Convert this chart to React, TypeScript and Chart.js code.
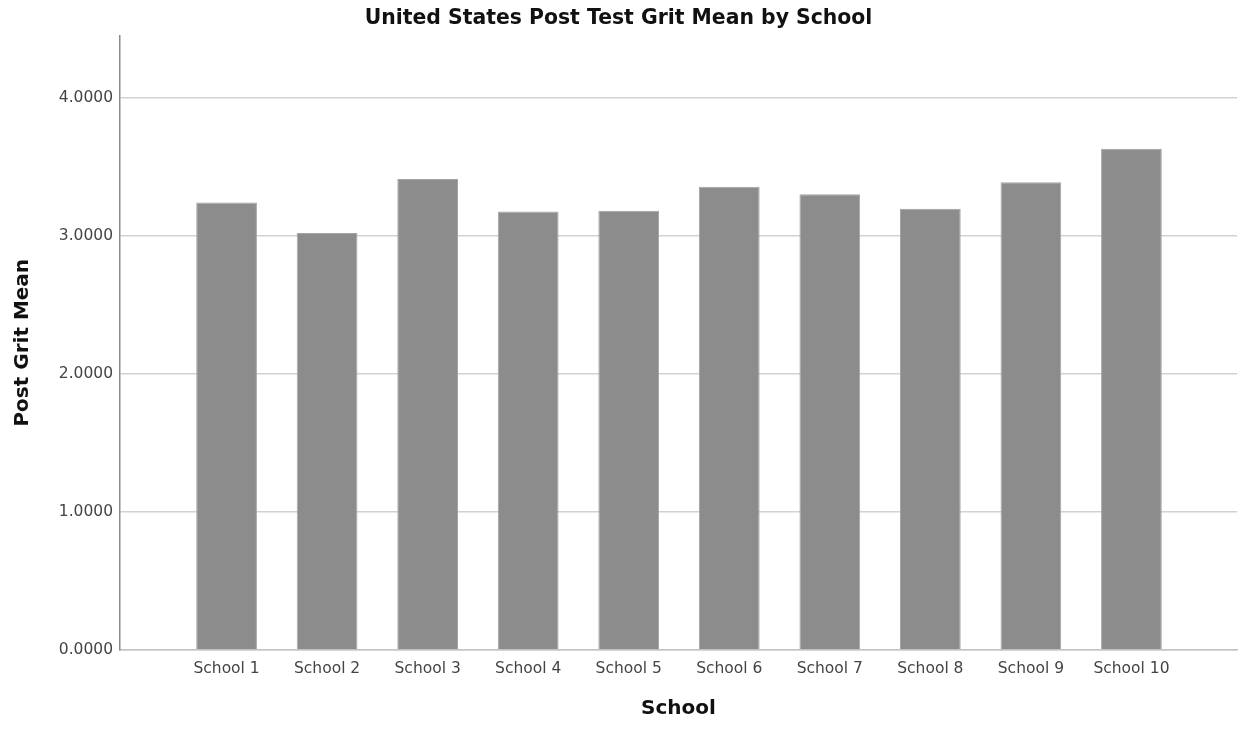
import React, { useEffect, useRef } from "react";
import { Chart, registerables } from "chart.js";

Chart.register(...registerables);

const schools = [
  "School 1", "School 2", "School 3", "School 4", "School 5",
  "School 6", "School 7", "School 8", "School 9", "School 10",
];
const postGritMean = [3.24, 3.02, 3.41, 3.175, 3.18, 3.354, 3.3, 3.195, 3.388, 3.629];
const yTicks = [0, 1, 2, 3, 4];

export default function App() {
  const ref = useRef<HTMLCanvasElement | null>(null);

  useEffect(() => {
    if (!ref.current) return;
    const chart = new Chart(ref.current, {
      type: "bar",
      data: {
        datasets: [
          {
            label: "Post Grit Mean",
            data: postGritMean.map((v, i) => ({ x: i + 1, y: v })),
            backgroundColor: "#8c8c8c",
            borderColor: "#a4a4a4",
            borderWidth: 1,
            barPercentage: 0.604,
            categoryPercentage: 1,
          },
        ],
      },
      options: {
        animation: false,
        responsive: false,
        maintainAspectRatio: false,
        layout: { padding: { left: 0, right: 4, top: 0, bottom: 0 } },
        plugins: {
          legend: { display: false },
          tooltip: { enabled: false },
          title: {
            display: true,
            text: "United States Post Test Grit Mean by School",
            color: "#111",
            font: { family: "DejaVu Sans", size: 20.4, weight: "bold" },
            padding: { top: 6, bottom: 5 },
          },
        },
        scales: {
          x: {
            type: "linear",
            offset: false,
            min: -0.06,
            max: 11.05,
            afterBuildTicks: (scale: any) => {
              scale.ticks = schools.map((_, i) => ({ value: i + 1 }));
            },
            afterFit: (scale: any) => {
              scale.height = 80;
            },
            grid: { display: false, drawTicks: false },
            border: { display: true, color: "#c4c4c4", width: 1.5 },
            ticks: {
              autoSkip: false,
              maxRotation: 0,
              padding: 10,
              color: "#444",
              font: { family: "DejaVu Sans", size: 15.5 },
              callback: (value: any) => schools[Math.round(Number(value)) - 1] ?? "",
            },
            title: {
              display: true,
              text: "School",
              color: "#111",
              font: { family: "DejaVu Sans", size: 20, weight: "bold" },
              padding: { top: 0, bottom: 9 },
            },
          },
          y: {
            type: "linear",
            min: 0,
            max: 4.45,
            afterBuildTicks: (scale: any) => {
              scale.ticks = yTicks.map((v) => ({ value: v }));
            },
            afterFit: (scale: any) => {
              scale.width = 120;
            },
            grid: { color: "#d2d2d2", lineWidth: 1.5, drawTicks: false },
            border: { display: true, color: "#8a8a8a", width: 1.5 },
            ticks: {
              padding: 7,
              color: "#444",
              font: { family: "DejaVu Sans", size: 15.5 },
              callback: (value: any) => Number(value).toFixed(4),
            },
            title: {
              display: true,
              text: "Post Grit Mean",
              color: "#111",
              font: { family: "DejaVu Sans", size: 20, weight: "bold" },
              padding: { top: 11, bottom: 0 },
            },
          },
        },
      },
    });
    return () => chart.destroy();
  }, []);

  return (
    <div style={{ position: "fixed", left: 0, top: 0, width: 1241, height: 730, background: "#fff" }}>
      <canvas ref={ref} width={1241} height={730} style={{ width: 1241, height: 730 }} />
    </div>
  );
}
